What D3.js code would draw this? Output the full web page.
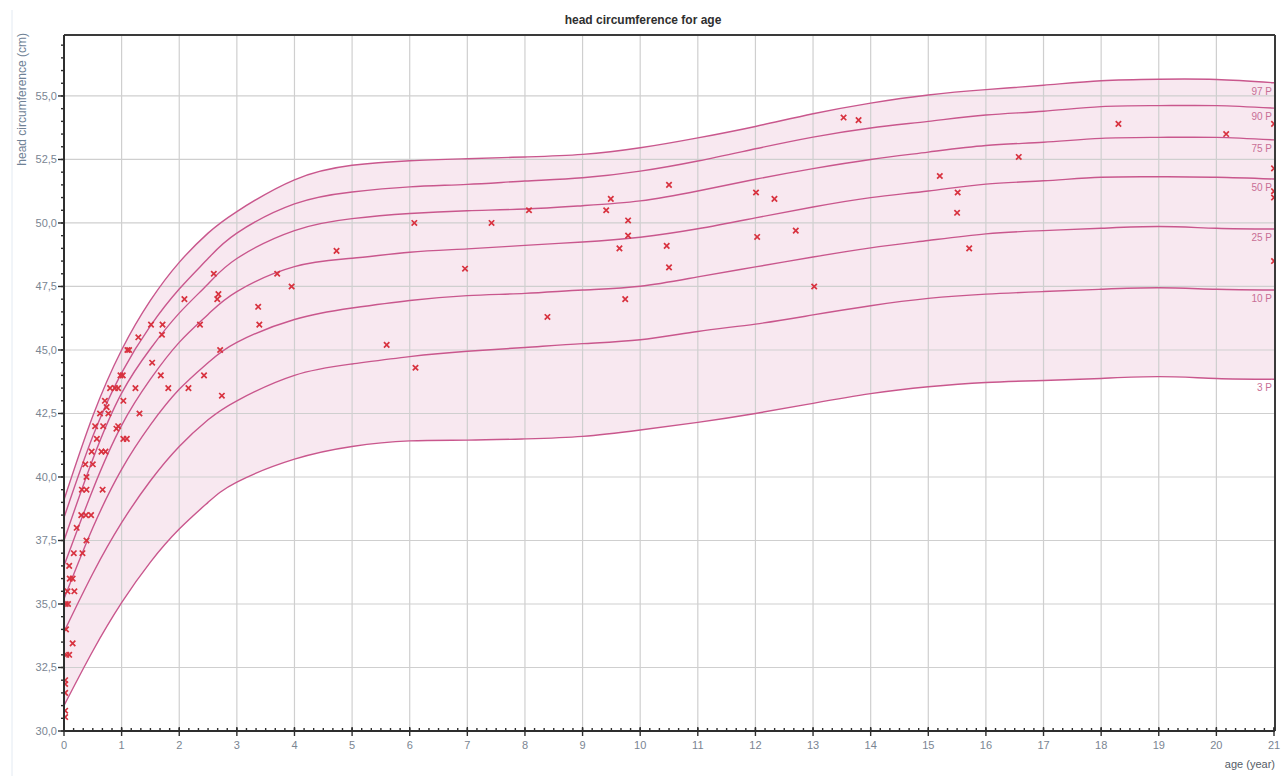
<!DOCTYPE html>
<html>
<head>
<meta charset="utf-8">
<script src="https://cdn.jsdelivr.net/npm/d3@7"></script>
<style>
  html, body { margin: 0; padding: 0; background: #ffffff; }
  svg { display: block; font-family: "Liberation Sans", Arial, sans-serif; }
</style>
</head>
<body>
<svg id="chart" width="1287" height="776"></svg>
<script>
// Reference ages (years) for the percentile curves
const refAges = [0, 0.5, 1, 1.5, 2, 2.5, 3, 4, 5, 6, 7, 8, 9, 10, 11, 12, 13, 14, 15, 16, 17, 18, 19, 20, 21];

// Percentile curves, head circumference in cm at each reference age
const p97 = [39.1, 42.4, 45.0, 46.95, 48.45, 49.6, 50.45, 51.7, 52.27, 52.45, 52.53, 52.6, 52.7, 52.96, 53.35, 53.8, 54.3, 54.72, 55.04, 55.25, 55.42, 55.6, 55.66, 55.65, 55.52];
const p90 = [38.4, 41.6, 44.1, 45.95, 47.4, 48.6, 49.6, 50.75, 51.22, 51.42, 51.52, 51.65, 51.78, 52.04, 52.44, 52.92, 53.38, 53.74, 54.0, 54.25, 54.4, 54.58, 54.62, 54.62, 54.52];
const p75 = [37.5, 40.7, 43.3, 45.05, 46.45, 47.6, 48.6, 49.7, 50.17, 50.37, 50.48, 50.55, 50.68, 50.87, 51.26, 51.72, 52.14, 52.5, 52.79, 53.05, 53.18, 53.33, 53.37, 53.37, 53.27];
const p50 = [36.5, 39.5, 42.03, 43.85, 45.3, 46.4, 47.3, 48.28, 48.61, 48.85, 48.98, 49.12, 49.25, 49.44, 49.77, 50.2, 50.63, 51.0, 51.26, 51.53, 51.66, 51.8, 51.82, 51.8, 51.73];
const p25 = [35.2, 38.0, 40.3, 42.05, 43.45, 44.5, 45.3, 46.2, 46.65, 46.95, 47.14, 47.23, 47.36, 47.51, 47.88, 48.27, 48.66, 49.02, 49.31, 49.57, 49.7, 49.79, 49.86, 49.79, 49.76];
const p10 = [33.9, 36.2, 38.2, 39.85, 41.2, 42.25, 43.0, 44.0, 44.45, 44.74, 44.95, 45.1, 45.25, 45.4, 45.73, 46.02, 46.38, 46.74, 47.03, 47.2, 47.3, 47.39, 47.45, 47.39, 47.36];
const p3  = [31.0, 33.15, 35.05, 36.65, 37.95, 39.0, 39.8, 40.7, 41.2, 41.42, 41.45, 41.5, 41.6, 41.85, 42.15, 42.5, 42.9, 43.28, 43.55, 43.72, 43.8, 43.88, 43.95, 43.88, 43.85];

const percentileNames = ["97 P", "90 P", "75 P", "50 P", "25 P", "10 P", "3 P"];

// Measurements: age (years)
const measAge = [
  0.02, 0.02, 0.02, 0.02, 0.02,
  0.04, 0.09, 0.15, 0.035, 0.03, 0.07,
  0.06, 0.18, 0.10, 0.15, 0.09,
  0.17, 0.32, 0.39, 0.22,
  0.30, 0.38, 0.47,
  0.31, 0.39, 0.67, 0.39,
  0.37, 0.50,
  0.48, 0.65, 0.72,
  0.57, 1.03, 1.09,
  0.54, 0.68, 0.94, 0.91,
  0.625, 0.77, 1.31,
  0.74, 0.71, 1.03,
  0.80, 0.885, 0.94, 1.24, 1.81, 2.16,
  2.74,
  0.98, 1.02, 1.68, 2.43,
  1.53,
  1.10, 1.13, 2.71,
  1.29, 1.70,
  1.51, 1.71, 2.36, 3.39,
  3.37,
  2.09, 2.66, 2.68,
  3.95,
  2.60, 3.70,
  4.73,
  5.60, 6.10,
  6.08, 6.96, 7.42, 8.07, 8.39, 9.41, 9.49, 9.64, 9.79, 9.79, 9.74,
  10.46, 10.50, 10.50,
  12.01, 12.03, 12.33, 12.70, 13.02,
  13.53, 13.79,
  15.20, 15.51, 15.50, 15.71, 16.57,
  18.30, 20.17,
  21.0, 21.0, 21.0, 21.0, 21.0
];
// Measurements: head circumference (cm)
const measHC = [
  32.0, 31.85, 31.5, 30.8, 30.55,
  33.0, 33.0, 33.45, 34.0, 35.0, 35.0,
  35.5, 35.5, 36.0, 36.0, 36.5,
  37.0, 37.0, 37.5, 38.0,
  38.5, 38.5, 38.5,
  39.5, 39.5, 39.5, 40.0,
  40.5, 40.5,
  41.0, 41.0, 41.0,
  41.5, 41.5, 41.5,
  42.0, 42.0, 42.0, 41.9,
  42.5, 42.5, 42.5,
  42.75, 43.0, 43.0,
  43.5, 43.5, 43.5, 43.5, 43.5, 43.5,
  43.2,
  44.0, 44.0, 44.0, 44.0,
  44.5,
  45.0, 45.0, 45.0,
  45.5, 45.6,
  46.0, 46.0, 46.0, 46.0,
  46.7,
  47.0, 47.0, 47.2,
  47.5,
  48.0, 48.0,
  48.9,
  45.2, 44.3,
  50.0, 48.2, 50.0, 50.5, 46.3, 50.5, 50.95, 49.0, 50.1, 49.5, 47.0,
  49.1, 51.5, 48.25,
  51.2, 49.45, 50.95, 49.7, 47.5,
  54.15, 54.05,
  51.85, 51.2, 50.4, 49.0, 52.6,
  53.9, 53.5,
  53.9, 52.15, 51.25, 51.0, 48.5
];

// Axis ticks
const yMajorTicks = [30, 32.5, 35, 37.5, 40, 42.5, 45, 47.5, 50, 52.5, 55];
const xMajorTicks = d3.range(0, 22);

const svg = d3.select("#chart");
const W = 1287, H = 776;
const plotL = 64, plotR = 1274, plotT = 35, plotB = 731;

const x = d3.scaleLinear().domain([0, 21]).range([plotL, plotR]);
const y = d3.scaleLinear().domain([30, 57.4]).range([plotB, plotT]);

const lineColor = "#c9578d";
const bandColor = "#f8e8f0";
const gridColor = "#cfcfcf";
const labelColor = "#7a8592";
const smooth = d3.curveNatural;

// faint panel edge on the left
svg.append("line")
  .attr("x1", 12).attr("x2", 12).attr("y1", 10).attr("y2", H)
  .attr("stroke", "#e3eaf2").attr("stroke-width", 1);

// clipping to the plotting area
svg.append("defs").append("clipPath").attr("id", "plotClip")
  .append("rect")
  .attr("x", plotL).attr("y", plotT)
  .attr("width", plotR - plotL).attr("height", plotB - plotT);

const plot = svg.append("g").attr("clip-path", "url(#plotClip)");

// band between 3rd and 97th percentile
const bandData = refAges.map((a, i) => ({ a, lo: p3[i], hi: p97[i] }));
plot.append("path")
  .datum(bandData)
  .attr("fill", bandColor)
  .attr("d", d3.area()
    .x(d => x(d.a))
    .y0(d => y(d.lo))
    .y1(d => y(d.hi))
    .curve(smooth));

// grid
const gridG = plot.append("g");
gridG.selectAll("line.v")
  .data(d3.range(1, 21))
  .join("line")
  .attr("x1", d => x(d)).attr("x2", d => x(d))
  .attr("y1", plotT).attr("y2", plotB)
  .attr("stroke", gridColor).attr("stroke-width", 1.2);
gridG.selectAll("line.h")
  .data(yMajorTicks.slice(1))
  .join("line")
  .attr("x1", plotL).attr("x2", plotR)
  .attr("y1", d => y(d)).attr("y2", d => y(d))
  .attr("stroke", gridColor).attr("stroke-width", 1.2);

// percentile curves
const curves = [p97, p90, p75, p50, p25, p10, p3];
const lineGen = d3.line()
  .x(d => x(d.a))
  .y(d => y(d.v))
  .curve(smooth);
curves.forEach(vals => {
  plot.append("path")
    .datum(refAges.map((a, i) => ({ a, v: vals[i] })))
    .attr("fill", "none")
    .attr("stroke", lineColor)
    .attr("stroke-width", 1.4)
    .attr("d", lineGen);
});

// percentile labels at the right end
curves.forEach((vals, k) => {
  svg.append("text")
    .attr("x", x(21) - 2)
    .attr("y", y(vals[vals.length - 1]) + 12)
    .attr("text-anchor", "end")
    .attr("font-size", 10)
    .attr("fill", "#c86f96")
    .text(percentileNames[k]);
});

// measurements as crosses
const pts = measAge.map((a, i) => ({ a, v: measHC[i] }));
const s = 2.7;
plot.append("g")
  .selectAll("path")
  .data(pts)
  .join("path")
  .attr("d", d => {
    const cx = x(d.a), cy = y(d.v);
    return `M${cx - s},${cy - s}L${cx + s},${cy + s}M${cx - s},${cy + s}L${cx + s},${cy - s}`;
  })
  .attr("stroke", "#d8323f")
  .attr("stroke-width", 1.7)
  .attr("fill", "none");

// frame: top and right borders
svg.append("line")
  .attr("x1", plotL).attr("x2", plotR + 1).attr("y1", plotT).attr("y2", plotT)
  .attr("stroke", "#3a3a3a").attr("stroke-width", 2);
svg.append("line")
  .attr("x1", plotR + 1).attr("x2", plotR + 1).attr("y1", plotT).attr("y2", plotB)
  .attr("stroke", "#3a3a3a").attr("stroke-width", 2);

// y axis
const yAxisG = svg.append("g");
yAxisG.append("line")
  .attr("x1", plotL).attr("x2", plotL).attr("y1", plotT).attr("y2", plotB + 1)
  .attr("stroke", "#2e2e2e").attr("stroke-width", 2);
yAxisG.selectAll("line.minor")
  .data(d3.range(30, 57.41, 0.5))
  .join("line")
  .attr("x1", plotL - 3).attr("x2", plotL)
  .attr("y1", d => y(d)).attr("y2", d => y(d))
  .attr("stroke", "#2e2e2e").attr("stroke-width", 1.4);
yAxisG.selectAll("line.major")
  .data(yMajorTicks)
  .join("line")
  .attr("x1", plotL - 6).attr("x2", plotL)
  .attr("y1", d => y(d)).attr("y2", d => y(d))
  .attr("stroke", "#2e2e2e").attr("stroke-width", 1.4);
yAxisG.selectAll("text")
  .data(yMajorTicks)
  .join("text")
  .attr("x", plotL - 7)
  .attr("y", d => y(d) + 4)
  .attr("text-anchor", "end")
  .attr("font-size", 11)
  .attr("fill", labelColor)
  .text(d => d3.format(".1f")(d).replace(".", ","));

// x axis
const xAxisG = svg.append("g");
xAxisG.append("line")
  .attr("x1", plotL - 1).attr("x2", plotR + 1).attr("y1", plotB).attr("y2", plotB)
  .attr("stroke", "#2e2e2e").attr("stroke-width", 2);
xAxisG.selectAll("line.minor")
  .data(d3.range(0, 21 * 6 + 1).map(i => i / 6))
  .join("line")
  .attr("x1", d => x(d)).attr("x2", d => x(d))
  .attr("y1", plotB - 3).attr("y2", plotB)
  .attr("stroke", "#2e2e2e").attr("stroke-width", 1.4);
xAxisG.selectAll("line.major")
  .data(xMajorTicks)
  .join("line")
  .attr("x1", d => x(d)).attr("x2", d => x(d))
  .attr("y1", plotB - 4).attr("y2", plotB + 5)
  .attr("stroke", "#2e2e2e").attr("stroke-width", 1.4);
xAxisG.selectAll("text")
  .data(xMajorTicks)
  .join("text")
  .attr("x", d => x(d))
  .attr("y", plotB + 18)
  .attr("text-anchor", "middle")
  .attr("font-size", 11)
  .attr("fill", labelColor)
  .text(d => d);

// titles
svg.append("text")
  .attr("x", 643).attr("y", 24)
  .attr("text-anchor", "middle")
  .attr("font-size", 12)
  .attr("font-weight", "bold")
  .attr("fill", "#2f2f2f")
  .text("head circumference for age");

svg.append("text")
  .attr("transform", "translate(26,33) rotate(-90)")
  .attr("text-anchor", "end")
  .attr("font-size", 12)
  .attr("fill", "#6f8296")
  .text("head circumference (cm)");

svg.append("text")
  .attr("x", 1275).attr("y", 768)
  .attr("text-anchor", "end")
  .attr("font-size", 11)
  .attr("fill", "#555d66")
  .text("age (year)");
</script>
</body>
</html>
